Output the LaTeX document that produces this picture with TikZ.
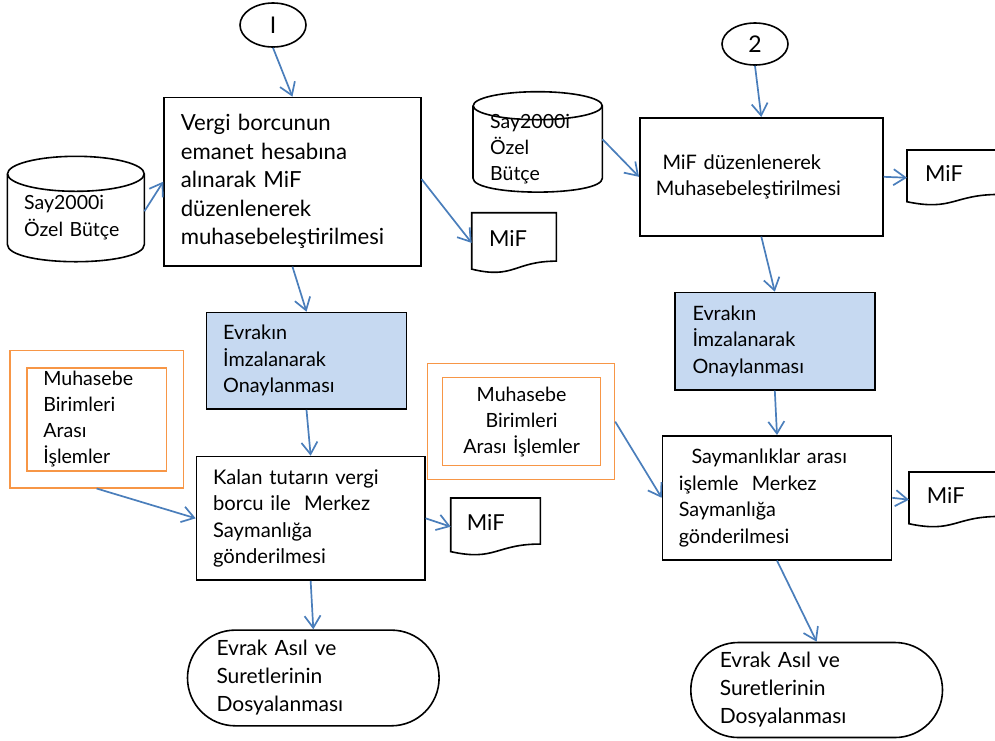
\documentclass[tikz,border=0pt]{standalone}
\usepackage{fontspec}
\setmainfont{Lato}
\usetikzlibrary{arrows.meta,calc,shapes.geometric}
\definecolor{arrowblue}{HTML}{4A7EBB}
\definecolor{boxblue}{HTML}{C6D9F1}
\definecolor{orangeline}{HTML}{F79646}
\newcommand{\cylout}[3]{%
  \draw[outline] (#1.north) ellipse [x radius=#2pt, y radius=#3pt];
  \draw[outline] (#1.north west) -- ($(#1.south west)+(0,-#3)$)
    .. controls ($(#1.south west)+(0,{#3/3})$) and ($(#1.south east)+(0,{#3/3})$) ..
    ($(#1.south east)+(0,-#3)$) -- (#1.north east);}
\newcommand{\mifdoc}[1]{%
  \draw[outline] (#1.north west) -- (#1.north east) -- ($(#1.north east)!0.802!(#1.south east)$)
    .. controls ($(#1.north)!0.802!(#1.south)$) and ($(#1.north)!1.107!(#1.south)$) ..
    ($(#1.north west)!0.934!(#1.south west)$) -- cycle;}
\begin{document}
\begin{tikzpicture}[x=1pt,y=-1pt,
  outline/.style={draw=black,line width=1.6pt},
  conn/.style={draw=arrowblue,line width=1.7pt,-{Straight Barb[length=12pt,width=16pt,line width=1.7pt]}},
  boxtext/.style={rectangle,anchor=north west,align=left,inner ysep=0pt,font=\fontsize{19.8}{26.5}\selectfont},
  procbox/.style={boxtext,outline},
  bluebox/.style={procbox,fill=boxblue},
  orangeframe/.style={rectangle,anchor=north west,draw=orangeline,line width=1.2pt,inner sep=0pt},
  orangein/.style={boxtext,draw=orangeline,line width=1.2pt,font=\fontsize{19.6}{26}\selectfont},
  conbubble/.style={ellipse,outline,minimum width=66pt,minimum height=44pt,inner sep=0pt,font=\fontsize{23}{26}\selectfont},
  dochold/.style={rectangle,anchor=north west,align=left,inner ysep=0pt,text depth=8pt,font=\fontsize{22}{26}\selectfont},
  cylhold/.style={rectangle,anchor=north west,align=left,inner ysep=0pt,font=\fontsize{19.5}{27}\selectfont},
]
\useasboundingbox (0,0) rectangle (995,740);

% ---------- left column ----------
\node[conbubble] (c1) at (273,25) {I};
\node[procbox,text width=223.3pt,inner xsep=16.7pt,minimum height=168.3pt,font=\fontsize{22.2}{28.5}\selectfont] (box1) at (163.3,96.7)
  {Vergi borcunun\\emanet hesabına\\alınarak MiF\\düzenlenerek\\muhasebeleştirilmesi};
\node[cylhold,text width=103.3pt,inner xsep=16.7pt,minimum height=87.5pt,yshift=-3pt] (cyl1) at (7.3,170.8) {Say2000i\\Özel Bütçe};
\cylout{cyl1}{68.35}{17.5}
\node[dochold,text width=49.7pt,inner xsep=17.3pt,minimum height=60pt] (doc1) at (471.7,212.7) {MiF};
\mifdoc{doc1}
\node[bluebox,text width=166.8pt,inner xsep=16.6pt,minimum height=96.6pt] (blue1) at (205.7,311.7)
  {Evrakın\\İmzalanarak\\Onaylanması};
\node[orangeframe,minimum width=173.4pt,minimum height=137.3pt] (orL) at (9.3,350) {};
\node[orangein,text width=106.6pt,inner xsep=16.4pt,minimum height=103pt] (inL) at (26.3,367.3)
  {Muhasebe\\Birimleri\\Arası\\İşlemler};
\node[procbox,text width=195.1pt,inner xsep=16.6pt,minimum height=123.6pt,font=\fontsize{20.2}{26.3}\selectfont] (kalan) at (195.7,455.7)
  {Kalan tutarın vergi\\borcu ile\ \ Merkez\\Saymanlığa\\gönderilmesi};
\node[dochold,text width=57.3pt,inner xsep=16pt,minimum height=57pt] (doc3) at (450.7,498) {MiF};
\mifdoc{doc3}
\node[procbox,rounded corners=47.8pt,text width=193.6pt,inner xsep=29pt,minimum height=95.7pt,font=\fontsize{21}{28}\selectfont] (termL) at (186.7,629.3)
  {Evrak Asıl ve\\Suretlerinin\\Dosyalanması};

% ---------- right column ----------
\node[conbubble,minimum height=42pt] (c2) at (755,44) {2};
\node[cylhold,font=\fontsize{19.5}{26}\selectfont,text width=95pt,inner xsep=17pt,minimum height=86pt] (cyl2) at (473,105.7)
  {Say2000i\\Özel\\Bütçe};
\cylout{cyl2}{64.5}{14}
\node[procbox,font=\fontsize{20}{26.5}\selectfont,text width=211pt,inner xsep=16pt,minimum height=118pt] (box2) at (639,117)
  {\hspace*{6.7pt}MiF düzenlenerek\\Muhasebeleştirilmesi};
\node[dochold,text width=56pt,inner xsep=18pt,minimum height=55pt] (doc2) at (907,150) {MiF};
\mifdoc{doc2}
\node[bluebox,text width=164.6pt,inner xsep=17.7pt,minimum height=97.3pt] (blue2) at (674,291.7)
  {Evrakın\\İmzalanarak\\Onaylanması};
\node[orangeframe,minimum width=187pt,minimum height=116pt] (orR) at (427,363) {};
\node[orangein,align=center,text width=148pt,inner xsep=5pt,minimum height=88pt] (inR) at (442,377)
  {Muhasebe\\Birimleri\\Arası İşlemler};
\node[procbox,text width=196.4pt,inner xsep=16.3pt,minimum height=124pt] (sayman) at (661.7,435)
  {\hspace*{12.7pt}Saymanlıklar arası\\işlemle\ \ Merkez\\Saymanlığa\\gönderilmesi};
\node[dochold,text width=54.6pt,inner xsep=17.7pt,minimum height=55pt] (doc4) at (909,472) {MiF};
\mifdoc{doc4}
\node[procbox,rounded corners=47.5pt,text width=193.7pt,inner xsep=29pt,minimum height=95pt,font=\fontsize{21}{28}\selectfont] (termR) at (690,641.7)
  {Evrak Asıl ve\\Suretlerinin\\Dosyalanması};

% ---------- connectors ----------
\draw[conn] (c1.south) -- (box1.north);
\draw[conn] ($(cyl1.east)+(0,-6.5)$) -- (box1.west);
\draw[conn] ($(box1.east)+(0,-2.5)$) -- (doc1.west);
\draw[conn] (box1.south) -- (blue1.north);
\draw[conn] (blue1.south) -- (kalan.north);
\draw[conn] (orL.south) -- (kalan.west);
\draw[conn] (kalan.east) -- (doc3.west);
\draw[conn] (kalan.south) -- (termL.north);
\draw[conn] (c2.south) -- (box2.north);
\draw[conn] ($(cyl2.east)+(0,-9.7)$) -- (box2.west);
\draw[conn] (box2.east) -- (doc2.west);
\draw[conn] (box2.south) -- (blue2.north);
\draw[conn] (blue2.south) -- (sayman.north);
\draw[conn] (orR.east) -- (sayman.west);
\draw[conn] (sayman.east) -- (doc4.west);
\draw[conn] (sayman.south) -- (termR.north);
\end{tikzpicture}
\end{document}
